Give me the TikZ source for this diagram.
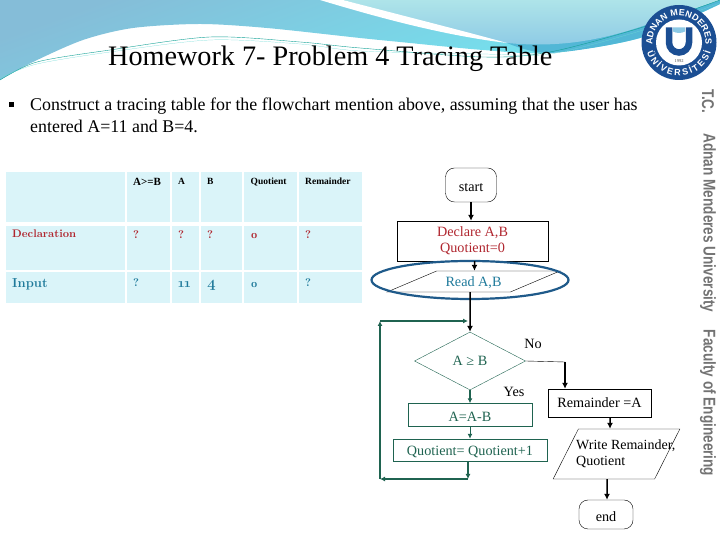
\documentclass[tikz,border=0pt]{standalone}
\usepackage{fontspec}
\usepackage{graphicx}
\setmainfont{Liberation Serif}
\setsansfont{Liberation Sans}
\newfontfamily\tablefont[Numbers=OldStyle]{Latin Modern Roman}
\usetikzlibrary{arrows.meta, calc}
\usetikzlibrary{shapes.geometric}
\usetikzlibrary{decorations.text}

\definecolor{bandblue}{HTML}{85BDD8}
\definecolor{bandcyan}{HTML}{70EAF3}
\definecolor{lobelight}{HTML}{AEE4E9}
\definecolor{lobeblue}{HTML}{8CC9E5}
\definecolor{deepband}{HTML}{52B7D6}
\definecolor{sealblue}{HTML}{1B4E93}
\definecolor{cellblue}{HTML}{DAF4F9}
\definecolor{declred}{HTML}{B0262F}
\definecolor{inputblue}{HTML}{1F7A9B}
\definecolor{loopgreen}{HTML}{1F6350}
\definecolor{ringblue}{HTML}{1F5A8A}

\tikzset{
  txt/.style={font=\fontsize{14.2}{16}\selectfont, inner sep=0pt, align=center},
  cellhead/.style={anchor=base west, inner sep=0pt, font=\fontsize{9.5}{11}\selectfont\bfseries},
  celltxt/.style={anchor=base west, inner sep=0pt, font=\fontsize{11}{13}\selectfont\tablefont\bfseries},
  sidetxt/.style={rotate=-90, text=black!55, inner sep=0pt, font=\fontsize{17}{20}\selectfont\sffamily\bfseries},
  flowbox/.style={txt, draw, thin, rectangle},
  roundbox/.style={txt, draw, thin, rectangle, rounded corners=9pt},
  slantbox/.style={txt, draw, thin, trapezium, trapezium stretches=true},
  blackarrow/.style={-{Latex[length=6pt,width=6pt]}, line width=1.5pt},
  greenarrow/.style={-{Latex[length=5pt,width=5pt]}, line width=1.5pt, loopgreen},
}

\begin{document}
\begin{tikzpicture}[x=1pt, y=1pt]
  \useasboundingbox (0,0) rectangle (720,540);
  \def\lx{679}    % seal centre
  \def\ly{497.5}

  % sfondo in alto
  \shade[top color=bandblue, bottom color=bandcyan, shading angle=20]
    (0,540) -- plot[smooth] coordinates {(0,460) (33,478) (83,500) (133,512) (200,516) (267,512) (360,502) (400,498) (483,490) (550,487) (640,502) (720,536)} -- (720,540) -- cycle;
  \fill[deepband] plot[smooth] coordinates {(507,497) (550,487) (640,502) (720,536)} -- (720,540) -- (507,540) -- cycle;
  \shade[top color=lobelight, bottom color=lobeblue]
    (343,540) .. controls (400,525) and (460,505) .. (507,497) .. controls (560,492) and (600,500) .. (640,513) -- (720,540) -- cycle;
  \fill[white] (320,540) .. controls (370,525) and (440,505) .. (507,497) .. controls (460,510) and (400,525) .. (343,540) -- cycle;

  % linee sottili
  \draw[loopgreen!60!cyan, thin] plot[smooth] coordinates {(0,460) (37,478) (110,490) (210,503) (300,498) (360,492) (483,483) (550,488) (640,512) (720,540)};
  \draw[loopgreen!40!cyan!60, very thin] plot[smooth] coordinates {(0,462) (37,476) (110,488) (210,500) (300,496) (360,489) (483,486) (550,486) (640,509) (720,537)};

  % titolo e testo
  \node[anchor=base west, inner sep=0pt, font=\fontsize{28.2}{30}\selectfont] (title) at (108,474) {Homework 7- Problem 4 Tracing Table};
  \node[fill=black, inner sep=0pt, minimum width=5pt, minimum height=5pt] (bullet) at (11.5,435.5) {};
  \node[anchor=base west, inner sep=0pt, font=\fontsize{17.9}{22}\selectfont] (line1) at (30,429) {Construct a tracing table for the flowchart mention above, assuming that the user has};
  \node[anchor=base west, inner sep=0pt, font=\fontsize{17.9}{22}\selectfont] (line2) at (30,407) {entered A=11 and B=4.};

  % stemma
  \fill[sealblue] (\lx,\ly) circle (37.5);
  \fill[white] (\lx,\ly) circle (23);
  \draw[sealblue, line width=6.5pt] (\lx-10,\ly+15) -- (\lx-10,\ly) arc[start angle=180, end angle=360, radius=10] -- (\lx+10,\ly+15);
  \fill[lobeblue] (\lx-6,\ly+15) -- (\lx-6,\ly+11) .. controls (\lx-2,\ly+9) and (\lx+2,\ly+9) .. (\lx+6,\ly+11) -- (\lx+6,\ly+15) -- cycle;
  \node[font=\fontsize{4.5}{5}\selectfont, text=black!70, inner sep=0pt] (year) at (\lx,\ly-19) {1992};
  \path[decorate, decoration={text along path, text align=fit to path,
    text={|\fontsize{9}{9}\sffamily\bfseries\color{white}|ADNAN MENDERES}}]
    (\lx,\ly) ++(185:26.5) arc[start angle=185, end angle=-5, radius=26.5];
  \path[decorate, decoration={text along path, text align=fit to path,
    text={|\fontsize{9}{9}\sffamily\bfseries\color{white}|ÜNİVERSİTESİ}}]
    (\lx,\ly) ++(197:33.5) arc[start angle=197, end angle=343, radius=33.5];

  % scritta laterale
  \node[sidetxt] (tc) at (708,438.5) {\scalebox{0.8}[1]{T.C.}};
  \node[sidetxt] (adu) at (708,317) {\scalebox{0.8}[1]{Adnan Menderes University}};
  \node[sidetxt] (foe) at (708,137) {\scalebox{0.8}[1]{Faculty of Engineering}};

  % tabella
  \foreach \xa/\xb in {6/125, 127/170, 172/199, 201/242, 244/297, 299/362}
    \foreach \ya/\yb in {368/318, 314/270, 268/237}
      \fill[cellblue] (\xa,\ya) rectangle (\xb,\yb);

  \node[cellhead, font=\fontsize{11}{11}\selectfont\bfseries] (headab) at (133,354.5) {A>=B};
  \node[cellhead] (heada) at (178,355) {A};
  \node[cellhead] (headb) at (207,355) {B};
  \node[cellhead] (headq) at (250.5,355) {Quotient};
  \node[cellhead] (headr) at (305,355) {Remainder};

  \node[celltxt, text=declred] (decl) at (12,302) {Declaration};
  \node[celltxt, text=declred] (declab) at (133,301) {?};
  \node[celltxt, text=declred] (decla) at (178,301) {?};
  \node[celltxt, text=declred] (declb) at (207,301) {?};
  \node[celltxt, text=declred] (declq) at (250.5,301) {0};
  \node[celltxt, text=declred] (declr) at (305,301) {?};

  \node[celltxt, text=inputblue, font=\fontsize{13}{15}\selectfont\tablefont\bfseries] (inp) at (12,252) {Input};
  \node[celltxt, text=inputblue] (inpab) at (133,253) {?};
  \node[celltxt, text=inputblue, font=\fontsize{13}{15}\selectfont\tablefont\bfseries] (inpa) at (178,252) {11};
  \node[celltxt, text=inputblue, font=\fontsize{15}{15}\selectfont\tablefont\bfseries] (inpb) at (207,252) {4};
  \node[celltxt, text=inputblue] (inpq) at (250.5,252) {0};
  \node[celltxt, text=inputblue] (inpr) at (305,253) {?};

  % diagramma di flusso
  \node[roundbox, text height=13pt, minimum width=51pt, minimum height=34pt] (start) at (471,355) {start};
  \node[flowbox, text=declred, minimum width=151pt, minimum height=40pt] (declare) at (472.5,299) {Declare A,B\\Quotient=0};
  \node[slantbox, text=inputblue, text height=13pt, trapezium left angle=22, trapezium right angle=158, minimum width=173pt, minimum height=21pt] (read) at (473.5,258.5) {Read A,B};
  \node[txt, draw=loopgreen, thin, diamond, text=loopgreen, minimum width=111pt, minimum height=58pt] (test) at (470,179) {A ≥ B};
  \node[flowbox, draw=loopgreen, text=loopgreen, text height=14pt, minimum width=124pt, minimum height=23pt] (minus) at (470,125) {A=A-B};
  \node[flowbox, draw=loopgreen, text=loopgreen, text height=13pt, minimum width=154pt, minimum height=22pt] (quot) at (470,90) {Quotient= Quotient+1};
  \node[flowbox, minimum width=103pt, minimum height=28pt] (rem) at (599.5,137) {Remainder =A};
  \node[slantbox, trapezium left angle=65, trapezium right angle=115, minimum width=127pt, minimum height=50pt] (write) at (616.5,86) {\phantom{W}};
  \node[txt, font=\fontsize{14}{16}\selectfont, align=left, anchor=west] (writetxt) at (576,86) {Write Remainder,\\Quotient};
  \node[roundbox, text height=15pt, minimum width=54pt, minimum height=29pt] (endbox) at (606,25.5) {end};
  \node[txt] (nolabel) at (533,196) {No};
  \node[txt] (yeslabel) at (514,148) {Yes};

  % ellisse
  \draw[ringblue, line width=2.2pt] (470,260) ellipse [x radius=98.5, y radius=19];

  % frecce
  \coordinate (loopin) at (468,219);
  \coordinate (loopout) at (468,61);
  \coordinate (loopleft) at (380,61);
  \coordinate (loopup) at (380,219);
  \coordinate (nocorner) at (565,178);

  \draw[blackarrow] (start.south) -- (start.south |- declare.north);
  \draw[blackarrow] ($(declare.south)+(2,0)$) -- ($(read.north)+(1,0)$);
  \draw[blackarrow] ($(read.south)+(-3.5,0)$) -- (test.north);
  \draw[greenarrow] (test.south) -- (minus.north);
  \draw[greenarrow, line width=1pt] (minus.south) -- (quot.north);
  \draw[greenarrow] (quot.south -| loopout) -- (loopout);
  \draw[greenarrow] (loopout) -- (loopleft);
  \draw[greenarrow] (loopleft) -- (loopup);
  \draw[greenarrow] (loopup) -- (loopin);
  \draw (test.east) -- (nocorner);
  \draw[blackarrow] (nocorner) -- (nocorner |- rem.north);
  \draw[blackarrow] ($(rem.south)+(10.5,0)$) -- ($(write.north)+(-6.5,0)$);
  \draw[blackarrow] ($(write.south)+(-9.5,0)$) -- (607,0 |- endbox.north);
\end{tikzpicture}
\end{document}
